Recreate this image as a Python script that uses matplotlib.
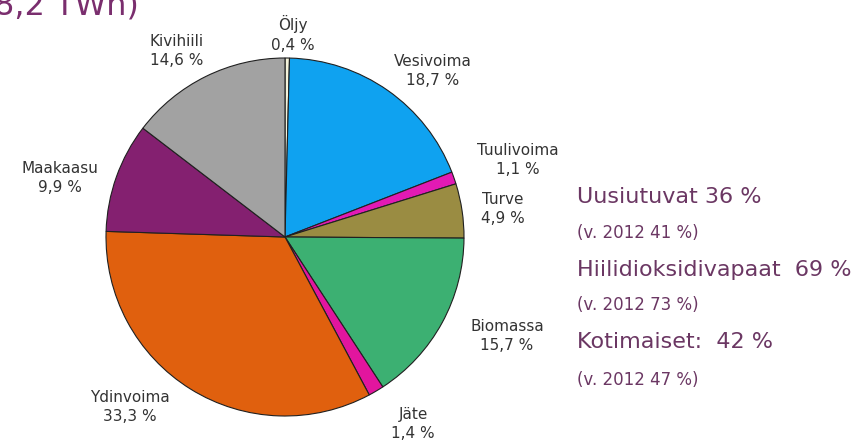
import matplotlib
matplotlib.use('Agg')
import matplotlib.pyplot as plt

# Sähkön hankinta energialähteittäin, osuudet prosentteina
sources = ['Öljy', 'Vesivoima', 'Tuulivoima', 'Turve', 'Biomassa', 'Jäte',
           'Ydinvoima', 'Maakaasu', 'Kivihiili']
shares = [0.4, 18.7, 1.1, 4.9, 15.7, 1.4, 33.3, 9.9, 14.6]
colors = ['#f4f4dc', '#0fa2f0', '#e21ab4', '#9a8c42', '#3cb072', '#e2159e',
          '#e0600e', '#842070', '#a2a2a2']

# label positions in pixels (x, y from the top)
label_pos = [(293, 34), (433, 71), (518, 160), (503, 209), (507, 336),
             (413, 424), (130, 407), (60, 178), (177, 51)]

summary = ['Uusiutuvat 36 %', '(v. 2012 41 %)',
           'Hiilidioksidivapaat  69 %', '(v. 2012 73 %)',
           'Kotimaiset:  42 %', '(v. 2012 47 %)']
summary_y = [197, 233, 270, 305, 342, 380]

W, H = 859, 443
fig = plt.figure(figsize=(W / 100, H / 100), dpi=100)
ax = fig.add_axes([0, 0, 1, 1])

cx, cy, r = 285, H - 237, 179
ax.pie(shares, colors=colors, startangle=90, counterclock=False,
       center=(cx, cy), radius=r, frame=True,
       wedgeprops=dict(edgecolor='#202020', linewidth=0.8))
ax.set_xlim(0, W)
ax.set_ylim(0, H)
ax.set_aspect('equal')
ax.axis('off')

for name, val, (x, y) in zip(sources, shares, label_pos):
    txt = f'{name}\n{val:.1f} %'.replace('.', ',')
    ax.text(x, H - y, txt, ha='center', va='center', fontsize=11,
            color='#333333', linespacing=1.4)

purple = '#6b3763'
for i, (s, y) in enumerate(zip(summary, summary_y)):
    ax.text(577, H - y, s, ha='left', va='center',
            fontsize=16 if i % 2 == 0 else 12, color=purple)

# otsikon loppu jää kuvan reunan yli
ax.text(139, H - 14, '8,2 TWh)', ha='right', va='baseline', fontsize=23,
        color='#7a2e6e', clip_on=False)

plt.savefig('out.png', dpi=100)
